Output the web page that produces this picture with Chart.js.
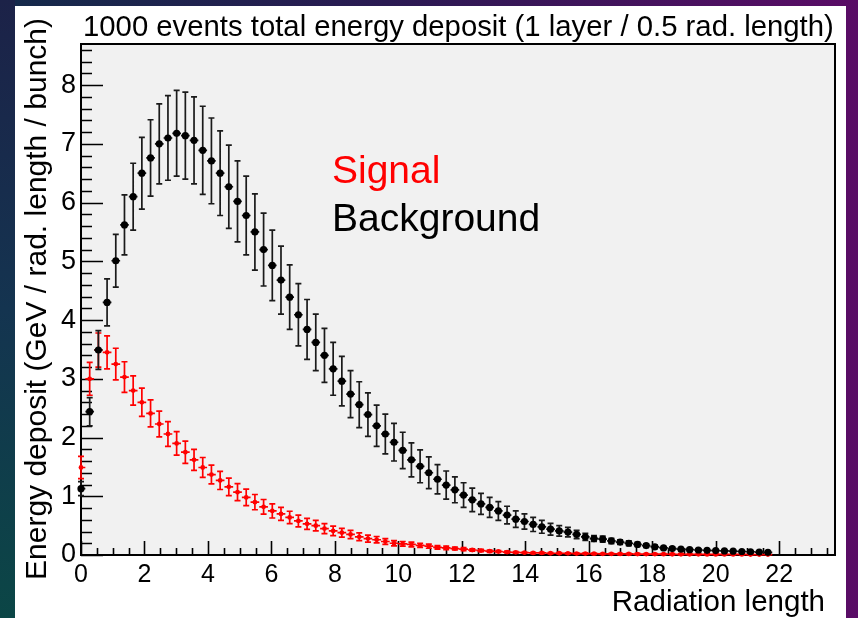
<!DOCTYPE html>
<html>
<head>
<meta charset="utf-8">
<script src="https://cdn.jsdelivr.net/npm/chart.js@4.4.1/dist/chart.umd.min.js"></script>
<style>
  html, body { margin: 0; padding: 0; width: 858px; height: 618px; overflow: hidden; }
  body { position: relative; background: linear-gradient(90deg, #142a4a 0%, #2a1a52 45%, #5a0c66 100%); }
  #leftStrip { position: absolute; left: 0; top: 0; width: 15px; height: 618px;
    background: linear-gradient(180deg, #1c2248 0%, #143450 50%, #0b4646 100%); }
  #page { position: absolute; left: 15px; top: 6px; width: 831px; height: 612px; background: #fff; }
</style>
</head>
<body>
<div id="leftStrip"></div>
<div id="page"><canvas id="depositChart" width="831" height="612"></canvas></div>
<script>
// one bin per layer
const binWidth = 0.274;

const background = [
  1.13, 2.44, 3.49, 4.30, 5.01, 5.62, 6.10, 6.50, 6.76, 7.00,
  7.10, 7.18, 7.14, 7.06, 6.89, 6.71, 6.50, 6.27, 6.02, 5.78,
  5.50, 5.20, 4.93, 4.68, 4.39, 4.09, 3.84, 3.62, 3.40, 3.17,
  2.96, 2.74, 2.56, 2.39, 2.20, 2.06, 1.92, 1.78, 1.62, 1.51,
  1.40, 1.29, 1.19, 1.11, 1.02, 0.94, 0.87, 0.81, 0.75, 0.68,
  0.61, 0.57, 0.52, 0.48, 0.44, 0.41, 0.39, 0.35, 0.31, 0.28,
  0.27, 0.24, 0.22, 0.20, 0.18, 0.16, 0.14, 0.12, 0.11, 0.10,
  0.09, 0.085, 0.08, 0.075, 0.07, 0.065, 0.06, 0.055, 0.05, 0.045
];
const backgroundErr = [
  0.12, 0.24, 0.33, 0.40, 0.45, 0.51, 0.57, 0.61, 0.65, 0.68,
  0.72, 0.73, 0.74, 0.74, 0.75, 0.73, 0.72, 0.71, 0.69, 0.67,
  0.65, 0.62, 0.60, 0.58, 0.55, 0.53, 0.51, 0.48, 0.46, 0.45,
  0.42, 0.40, 0.39, 0.37, 0.35, 0.34, 0.32, 0.31, 0.29, 0.28,
  0.27, 0.25, 0.24, 0.22, 0.21, 0.20, 0.18, 0.17, 0.16, 0.15,
  0.14, 0.13, 0.12, 0.11, 0.10, 0.09, 0.08, 0.07, 0.06, 0.05,
  0.05, 0.045, 0.04, 0.04, 0.035, 0.03, 0.03, 0.025, 0.025, 0.02,
  0.02, 0.02, 0.015, 0.015, 0.015, 0.01, 0.01, 0.01, 0.01, 0.01
];
const signal = [
  1.49, 3.00, 3.49, 3.45, 3.25, 3.03, 2.80, 2.60, 2.41, 2.23,
  2.06, 1.90, 1.75, 1.62, 1.49, 1.37, 1.27, 1.16, 1.07, 0.98,
  0.90, 0.82, 0.75, 0.70, 0.64, 0.58, 0.53, 0.50, 0.45, 0.41,
  0.38, 0.35, 0.31, 0.28, 0.26, 0.23, 0.20, 0.19, 0.18, 0.165,
  0.15, 0.13, 0.12, 0.11, 0.10, 0.085, 0.075, 0.065, 0.06, 0.05,
  0.045, 0.04, 0.035, 0.035, 0.03, 0.03, 0.028, 0.025, 0.025, 0.022,
  0.02, 0.02, 0.018, 0.018, 0.016, 0.015, 0.015, 0.014, 0.013, 0.012,
  0.012, 0.011, 0.01, 0.01, 0.01, 0.009, 0.009, 0.008, 0.008, 0.008
];
const signalErr = [
  0.19, 0.28, 0.29, 0.28, 0.27, 0.26, 0.25, 0.24, 0.23, 0.22,
  0.21, 0.20, 0.19, 0.18, 0.17, 0.16, 0.155, 0.15, 0.145, 0.14,
  0.13, 0.125, 0.12, 0.11, 0.105, 0.10, 0.095, 0.09, 0.085, 0.08,
  0.075, 0.07, 0.065, 0.06, 0.055, 0.05, 0.045, 0.04, 0.04, 0.035,
  0.035, 0.03, 0.03, 0.025, 0.025, 0.02, 0.02, 0.02, 0.015, 0.015,
  0.015, 0.01, 0.01, 0.01, 0.01, 0.01, 0.01, 0.01, 0.01, 0.01,
  0.01, 0.01, 0.01, 0.01, 0.01, 0.01, 0.01, 0.01, 0.01, 0.01,
  0.01, 0.01, 0.01, 0.01, 0.01, 0.01, 0.01, 0.01, 0.01, 0.01
];

const xMax = 23.76;
const yMax = 8.70;
const titleText = '1000 events total energy deposit (1 layer / 0.5 rad. length)';
const yTitle = 'Energy deposit (GeV / rad. length / bunch)';
const xTitle = 'Radiation length';
const legendItems = [['Signal', '#ff0000'], ['Background', '#000000']];

const FONT = '"Liberation Sans", Arial, Helvetica, sans-serif';

function toPoints(values) {
  return values.map((v, i) => ({ x: i * binWidth, y: v }));
}

// grey pad, frame and inward ticks
const framePlugin = {
  id: 'frame',
  beforeDraw(chart) {
    const a = chart.chartArea, ctx = chart.ctx;
    ctx.save();
    ctx.fillStyle = '#f1f1f1';
    ctx.fillRect(a.left, a.top, a.right - a.left, a.bottom - a.top);
    ctx.restore();
  },
  beforeDatasetsDraw(chart) {
    const a = chart.chartArea, ctx = chart.ctx;
    const xs = chart.scales.x, ys = chart.scales.y;
    ctx.save();
    ctx.strokeStyle = '#000';
    ctx.lineWidth = 2;
    ctx.strokeRect(a.left, a.top, a.right - a.left, a.bottom - a.top);
    ctx.beginPath();
    for (let k = 0; k * 0.2 <= yMax + 1e-9; k++) {
      const py = Math.round(ys.getPixelForValue(k * 0.2)) + 0.5;
      const len = k % 5 === 0 ? 22 : 11;
      ctx.moveTo(a.left, py);
      ctx.lineTo(a.left + len, py);
    }
    for (let k = 0; k * 0.5 <= xMax + 1e-9; k++) {
      const px = Math.round(xs.getPixelForValue(k * 0.5)) + 0.5;
      const len = k % 4 === 0 ? 14 : 7;
      ctx.moveTo(px, a.bottom);
      ctx.lineTo(px, a.bottom - len);
    }
    ctx.lineWidth = 1.6;
    ctx.stroke();
    ctx.restore();
  }
};

// vertical error bars and half-bin horizontal bars
const errorBarPlugin = {
  id: 'errorBars',
  beforeDatasetsDraw(chart) {
    const ctx = chart.ctx, xs = chart.scales.x, ys = chart.scales.y;
    ctx.save();
    for (let d = chart.data.datasets.length - 1; d >= 0; d--) {
      const ds = chart.data.datasets[d];
      ctx.strokeStyle = ds.barColor;
      ctx.lineWidth = 1.7;
      ctx.beginPath();
      ds.data.forEach((p, i) => {
        const err = ds.errors[i];
        const px = xs.getPixelForValue(p.x);
        const py = ys.getPixelForValue(p.y);
        const top = ys.getPixelForValue(p.y + err);
        const bot = ys.getPixelForValue(Math.max(0, p.y - err));
        ctx.moveTo(px, top);
        ctx.lineTo(px, bot);
        ctx.moveTo(px - 3, top);
        ctx.lineTo(px + 3, top);
        ctx.moveTo(px - 3, bot);
        ctx.lineTo(px + 3, bot);
        const l = xs.getPixelForValue(Math.max(0, p.x - binWidth / 2));
        const r = xs.getPixelForValue(p.x + binWidth / 2);
        ctx.moveTo(l, py);
        ctx.lineTo(r, py);
      });
      ctx.stroke();
    }
    ctx.restore();
  }
};

// title, axis titles and the two-line legend
const textPlugin = {
  id: 'texts',
  afterDraw(chart) {
    const ctx = chart.ctx;
    ctx.save();
    ctx.fillStyle = '#000';
    ctx.textBaseline = 'alphabetic';
    ctx.font = '29.3px ' + FONT;
    ctx.textAlign = 'left';
    ctx.fillText(titleText, 68, 30);

    ctx.textAlign = 'right';
    ctx.font = '29.5px ' + FONT;
    ctx.fillText(xTitle, 810, 605);

    ctx.save();
    ctx.translate(31, 12);
    ctx.rotate(-Math.PI / 2);
    ctx.textAlign = 'right';
    ctx.font = '30px ' + FONT;
    ctx.fillText(yTitle, 0, 0);
    ctx.restore();

    ctx.textAlign = 'left';
    ctx.font = '39px ' + FONT;
    legendItems.forEach(([label, color], i) => {
      ctx.fillStyle = color;
      ctx.fillText(label, 317, 177 + i * 48);
    });
    ctx.restore();
  }
};

new Chart(document.getElementById('depositChart'), {
  type: 'scatter',
  data: {
    datasets: [{
      label: 'Background',
      data: toPoints(background),
      errors: backgroundErr,
      barColor: '#1a1a1a',
      pointRadius: 3.6,
      pointBackgroundColor: '#000',
      pointBorderWidth: 0,
      clip: false
    }, {
      label: 'Signal',
      data: toPoints(signal),
      errors: signalErr,
      barColor: '#ff0000',
      pointRadius: 2.4,
      pointBackgroundColor: '#ff0000',
      pointBorderWidth: 0,
      clip: false
    }]
  },
  options: {
    responsive: false,
    animation: false,
    layout: { padding: { left: 0, top: 38, right: 11, bottom: 0 } },
    plugins: {
      legend: { display: false },
      title: { display: false },
      tooltip: { enabled: false }
    },
    scales: {
      x: {
        type: 'linear',
        min: 0,
        max: xMax,
        grid: { display: false, drawTicks: false },
        border: { display: false },
        ticks: {
          stepSize: 2,
          includeBounds: false,
          padding: 5,
          color: '#000',
          maxRotation: 0,
          autoSkip: false,
          font: { family: FONT, size: 25 }
        },
        afterFit(scale) { scale.height = 63; }
      },
      y: {
        type: 'linear',
        min: 0,
        max: yMax,
        grid: { display: false, drawTicks: false },
        border: { display: false },
        ticks: {
          stepSize: 1,
          includeBounds: false,
          padding: 5,
          color: '#000',
          font: { family: FONT, size: 27 }
        },
        afterFit(scale) { scale.width = 66; }
      }
    }
  },
  plugins: [framePlugin, errorBarPlugin, textPlugin]
});
</script>
</body>
</html>
